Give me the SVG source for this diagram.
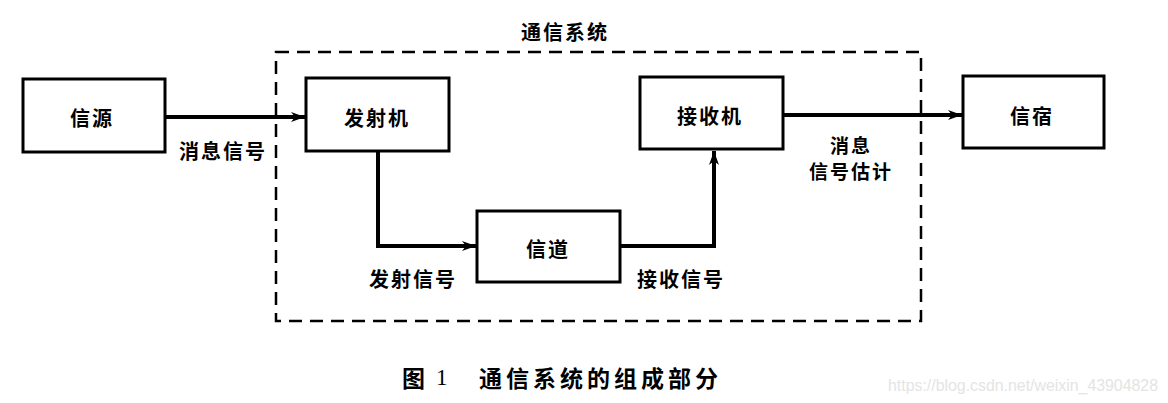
<svg xmlns="http://www.w3.org/2000/svg" width="1168" height="403" viewBox="0 0 1168 403">
<style>
.box{fill:#fff;stroke:#000;stroke-width:3}
.lbl{font-family:"Noto Sans CJK SC",sans-serif;font-weight:bold;font-size:20px;fill:#000;text-anchor:middle;dominant-baseline:central;letter-spacing:2px}
.wire{fill:none;stroke:#000;stroke-width:4}
.cap{font-family:"Noto Sans CJK SC",sans-serif;font-weight:bold;font-size:23px;fill:#000;dominant-baseline:central}
</style>
<defs>
<marker id="ah" viewBox="0 0 14 10" refX="14" refY="5" markerWidth="14" markerHeight="10" markerUnits="userSpaceOnUse" orient="auto">
<path d="M0,0 L14,5 L0,10 L4,5 z" fill="#000"/>
</marker>
</defs>
<rect width="1168" height="403" fill="#fff"/>
<g id="system">
<rect x="276" y="52" width="645" height="269" fill="none" stroke="#000" stroke-width="2.5" stroke-dasharray="13,8"/>
<text class="lbl" x="565" y="31">通信系统</text>
</g>
<g id="connectors">
<line class="wire" x1="165" y1="117" x2="305" y2="117" marker-end="url(#ah)"/>
<polyline class="wire" points="378,151 378,246 476,246" marker-end="url(#ah)"/>
<polyline class="wire" points="620,246 714,246 714,151" marker-end="url(#ah)"/>
<line class="wire" x1="783" y1="115" x2="962" y2="115" marker-end="url(#ah)"/>
<text class="lbl" x="223" y="150">消息信号</text>
<text class="lbl" x="413" y="278">发射信号</text>
<text class="lbl" x="681" y="278">接收信号</text>
<text class="lbl" x="851" y="144" style="font-size:19px">消息</text>
<text class="lbl" x="851" y="170" style="font-size:19px">信号估计</text>
</g>
<g id="source">
<rect class="box" x="23" y="79" width="142" height="73"/>
<text class="lbl" x="92" y="117">信源</text>
</g>
<g id="transmitter">
<rect class="box" x="306" y="78" width="143" height="73"/>
<text class="lbl" x="377" y="117">发射机</text>
</g>
<g id="channel">
<rect class="box" x="477" y="211" width="143" height="71"/>
<text class="lbl" x="548" y="248">信道</text>
</g>
<g id="receiver">
<rect class="box" x="640" y="77" width="143" height="72"/>
<text class="lbl" x="710" y="115">接收机</text>
</g>
<g id="sink">
<rect class="box" x="963" y="76" width="141" height="72"/>
<text class="lbl" x="1032" y="115">信宿</text>
</g>
<g id="caption">
<text class="cap" x="402" y="377">图</text>
<text class="cap" x="436" y="377" style="font-family:'Liberation Serif',serif;font-weight:normal">1</text>
<text class="cap" x="479" y="377" letter-spacing="4">通信系统的组成部分</text>
<text x="888" y="385" font-family="Liberation Sans" font-size="16" fill="#e4e4e4" textLength="270" lengthAdjust="spacingAndGlyphs" dominant-baseline="central">https://blog.csdn.net/weixin_43904828</text>
</g>
</svg>
